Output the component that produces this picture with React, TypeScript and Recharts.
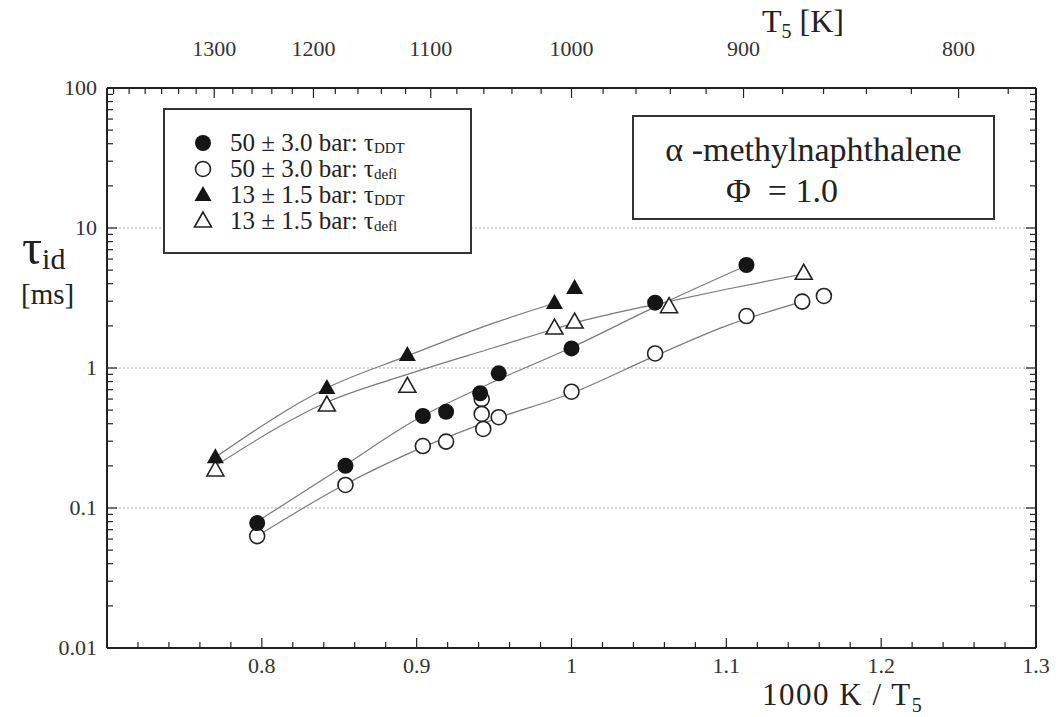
import React from 'react'
import {
  ComposedChart,
  Legend,
  Line,
  ReferenceLine,
  Scatter,
  XAxis,
  YAxis,
} from 'recharts'

// 1000 K / T5 and ignition delay [ms]
const ddt50X = [0.797, 0.854, 0.904, 0.919, 0.941, 0.953, 1.0, 1.054, 1.113]
const ddt50Y = [0.078, 0.2, 0.454, 0.487, 0.66, 0.916, 1.38, 2.93, 5.44]

const defl50X = [0.797, 0.854, 0.904, 0.919, 0.942, 0.942, 0.943, 0.953, 1.0, 1.054, 1.113, 1.149, 1.163]
const defl50Y = [0.063, 0.146, 0.277, 0.298, 0.6, 0.47, 0.367, 0.445, 0.677, 1.27, 2.35, 2.98, 3.27]

const ddt13X = [0.77, 0.842, 0.894, 0.989, 1.002]
const ddt13Y = [0.23, 0.72, 1.24, 2.91, 3.73]

const defl13X = [0.77, 0.842, 0.894, 0.989, 1.002, 1.063, 1.15]
const defl13Y = [0.187, 0.544, 0.74, 1.93, 2.13, 2.74, 4.75]

// fitted curves
const fitDdt50X = [0.797, 0.85, 0.9, 0.95, 1.0, 1.05, 1.113]
const fitDdt50Y = [0.08, 0.19, 0.43, 0.8, 1.4, 2.6, 5.4]
const fitDefl50X = [0.797, 0.85, 0.9, 0.95, 1.0, 1.054, 1.1, 1.149]
const fitDefl50Y = [0.063, 0.14, 0.26, 0.43, 0.66, 1.22, 2.0, 2.98]
const fitDdt13X = [0.77, 0.842, 0.894, 0.95, 0.989]
const fitDdt13Y = [0.23, 0.72, 1.22, 2.1, 2.9]
const fitDefl13X = [0.77, 0.842, 0.894, 0.95, 0.989, 1.002, 1.054, 1.1, 1.15]
const fitDefl13Y = [0.2, 0.57, 0.9, 1.4, 1.9, 2.1, 2.85, 3.65, 4.7]

const xMajor = [0.8, 0.9, 1.0, 1.1, 1.2, 1.3]
const xLabels = ['0.8', '0.9', '1', '1.1', '1.2', '1.3']
const tMajor = [1300, 1200, 1100, 1000, 900, 800]
const yMajor = [0.01, 0.1, 1, 10, 100]
const yLabels = ['0.01', '0.1', '1', '10', '100']
const gridY = [10, 1, 0.1]

const legendRows = [
  { text: '50 ± 3.0 bar: τ', sub: 'DDT', marker: 'filledCircle' },
  { text: '50 ± 3.0 bar: τ', sub: 'defl', marker: 'openCircle' },
  { text: '13 ± 1.5 bar: τ', sub: 'DDT', marker: 'filledTriangle' },
  { text: '13 ± 1.5 bar: τ', sub: 'defl', marker: 'openTriangle' },
]

const pts = (xs: number[], ys: number[]) => xs.map((x, i) => ({ x, y: ys[i] }))

// minor ticks
const xTicks: number[] = []
for (let i = 0; i <= 30; i++) xTicks.push(Math.round((0.7 + i * 0.02) * 1000) / 1000)
const tTicks: number[] = []
for (let t = 1420; t >= 780; t -= 20) tTicks.push(1000 / t)
const yTicks: number[] = []
for (const d of [0.01, 0.1, 1, 10]) for (let m = 1; m <= 9; m++) yTicks.push(Math.round(d * m * 1000) / 1000)
yTicks.push(100)

const FONT = '"Times New Roman", "Liberation Serif", Tinos, "DejaVu Serif", "Noto Serif", Times, serif'
const LINE = '#7a7a7a'

const isIn = (v: number, list: number[]) => list.findIndex((m) => Math.abs(m - v) < 1e-6)

const BottomTick = ({ x, y, payload }: any) => {
  const i = isIn(payload.value, xMajor)
  return (
    <g>
      <line x1={x} x2={x} y1={y} y2={y - (i >= 0 ? 10 : 6)} stroke="#222" strokeWidth={1.2} />
      {i >= 0 && (
        <text x={x} y={y + 25} textAnchor="middle" fontSize={22} style={{ fontFamily: FONT }} fill="#333">
          {xLabels[i]}
        </text>
      )}
    </g>
  )
}

const TopTick = ({ x, y, payload }: any) => {
  const T = Math.round(1000 / payload.value)
  const major = tMajor.includes(T)
  return (
    <g>
      <line x1={x} x2={x} y1={y} y2={y + (major ? 10 : 6)} stroke="#222" strokeWidth={1.2} />
      {major && (
        <text x={x} y={y - 32} textAnchor="middle" fontSize={22} style={{ fontFamily: FONT }} fill="#333">
          {T}
        </text>
      )}
    </g>
  )
}

const LeftTick = ({ x, y, payload }: any) => {
  const i = isIn(payload.value, yMajor)
  return (
    <g>
      <line x1={x} x2={x + (i >= 0 ? 10 : 6)} y1={y} y2={y} stroke="#222" strokeWidth={1.2} />
      {i >= 0 && (
        <text x={x - 10} y={y + 7} textAnchor="end" fontSize={22} style={{ fontFamily: FONT }} fill="#333">
          {yLabels[i]}
        </text>
      )}
    </g>
  )
}

const RightTick = ({ x, y, payload }: any) => {
  const i = isIn(payload.value, yMajor)
  return <line x1={x} x2={x - (i >= 0 ? 10 : 6)} y1={y} y2={y} stroke="#222" strokeWidth={1.2} />
}

const FilledCircle = ({ cx, cy }: any) => <circle cx={cx} cy={cy} r={8} fill="#151515" />
const OpenCircle = ({ cx, cy }: any) => (
  <circle cx={cx} cy={cy} r={7.5} fill="#fff" stroke="#222" strokeWidth={1.6} />
)
const triPts = (cx: number, cy: number) =>
  `${cx},${cy - 9} ${cx - 8.5},${cy + 6} ${cx + 8.5},${cy + 6}`
const FilledTriangle = ({ cx, cy }: any) => <polygon points={triPts(cx, cy)} fill="#151515" />
const OpenTriangle = ({ cx, cy }: any) => (
  <polygon points={triPts(cx, cy)} fill="#fff" stroke="#222" strokeWidth={1.6} />
)

const markerFor: Record<string, any> = {
  filledCircle: FilledCircle,
  openCircle: OpenCircle,
  filledTriangle: FilledTriangle,
  openTriangle: OpenTriangle,
}

const LegendBox = () => (
  <div
    style={{
      width: 305,
      height: 142,
      border: '2px solid #333',
      background: '#fff',
      fontFamily: FONT,
      color: '#222',
    }}
  >
    {legendRows.map((r, i) => {
      const M = markerFor[r.marker]
      return (
        <div
          key={i}
          style={{
            position: 'absolute',
            left: 30,
            top: 21 + i * 26,
            height: 26,
            display: 'flex',
            alignItems: 'center',
            lineHeight: 1,
          }}
        >
          <svg width={20} height={20} style={{ marginRight: 17 }}>
            <M cx={10} cy={11} />
          </svg>
          <span style={{ fontSize: 25, whiteSpace: 'nowrap', lineHeight: 1 }}>
            {r.text}
            <span style={{ fontSize: 15, position: 'relative', top: 2, lineHeight: 1 }}>{r.sub}</span>
          </span>
        </div>
      )
    })}
  </div>
)

export default function App() {
  return (
    <div
      style={{
        position: 'absolute',
        left: 0,
        top: 0,
        width: 1058,
        height: 717,
        background: '#fff',
        fontFamily: FONT,
      }}
    >
      <ComposedChart width={1058} height={717} margin={{ top: 0, right: 0, bottom: 0, left: 0 }}>
        <XAxis
          xAxisId="b"
          dataKey="x"
          type="number"
          domain={[0.7, 1.3]}
          allowDataOverflow
          ticks={xTicks}
          interval={0}
          tickSize={0}
          tickMargin={0}
          height={69}
          tickLine={false}
          axisLine={{ stroke: '#222', strokeWidth: 2 }}
          tick={(p: any) => <BottomTick {...p} />}
        />
        <XAxis
          xAxisId="t"
          orientation="top"
          dataKey="x"
          type="number"
          domain={[0.7, 1.3]}
          allowDataOverflow
          ticks={tTicks}
          interval={0}
          tickSize={0}
          tickMargin={0}
          height={88}
          tickLine={false}
          axisLine={{ stroke: '#222', strokeWidth: 2 }}
          tick={(p: any) => <TopTick {...p} />}
        />
        <YAxis
          yAxisId="l"
          dataKey="y"
          type="number"
          scale="log"
          domain={[0.01, 100]}
          allowDataOverflow
          ticks={yTicks}
          interval={0}
          tickSize={0}
          tickMargin={0}
          width={107}
          tickLine={false}
          axisLine={{ stroke: '#222', strokeWidth: 2 }}
          tick={(p: any) => <LeftTick {...p} />}
        />
        <YAxis
          yAxisId="r"
          orientation="right"
          dataKey="y"
          type="number"
          scale="log"
          domain={[0.01, 100]}
          allowDataOverflow
          ticks={yTicks}
          interval={0}
          tickSize={0}
          tickMargin={0}
          width={22}
          tickLine={false}
          axisLine={{ stroke: '#222', strokeWidth: 2 }}
          tick={(p: any) => <RightTick {...p} />}
        />
        {gridY.map((v) => (
          <ReferenceLine
            key={v}
            xAxisId="b"
            yAxisId="l"
            y={v}
            stroke="#aaa"
            strokeDasharray="2 2"
            strokeWidth={1}
          />
        ))}
        <Line xAxisId="b" yAxisId="l" data={pts(fitDdt50X, fitDdt50Y)} dataKey="y" type="monotone" stroke={LINE} strokeWidth={1.2} dot={false} isAnimationActive={false} />
        <Line xAxisId="b" yAxisId="l" data={pts(fitDefl50X, fitDefl50Y)} dataKey="y" type="monotone" stroke={LINE} strokeWidth={1.2} dot={false} isAnimationActive={false} />
        <Line xAxisId="b" yAxisId="l" data={pts(fitDdt13X, fitDdt13Y)} dataKey="y" type="monotone" stroke={LINE} strokeWidth={1.2} dot={false} isAnimationActive={false} />
        <Line xAxisId="b" yAxisId="l" data={pts(fitDefl13X, fitDefl13Y)} dataKey="y" type="monotone" stroke={LINE} strokeWidth={1.2} dot={false} isAnimationActive={false} />
        <Scatter xAxisId="b" yAxisId="l" data={pts(defl50X, defl50Y)} shape={(p: any) => <OpenCircle {...p} />} isAnimationActive={false} />
        <Scatter xAxisId="b" yAxisId="l" data={pts(defl13X, defl13Y)} shape={(p: any) => <OpenTriangle {...p} />} isAnimationActive={false} />
        <Scatter xAxisId="b" yAxisId="l" data={pts(ddt50X, ddt50Y)} shape={(p: any) => <FilledCircle {...p} />} isAnimationActive={false} />
        <Scatter xAxisId="b" yAxisId="l" data={pts(ddt13X, ddt13Y)} shape={(p: any) => <FilledTriangle {...p} />} isAnimationActive={false} />
        <Legend
          layout="vertical"
          align="center"
          verticalAlign="middle"
          content={() => <LegendBox />}
          wrapperStyle={{ left: 163, top: 108, width: 309, height: 146 }}
        />
      </ComposedChart>

      {/* title box */}
      <div
        style={{
          position: 'absolute',
          left: 632,
          top: 115,
          width: 359,
          height: 101,
          border: '2px solid #333',
          background: '#fff',
          color: '#222',
        }}
      >
        <div style={{ position: 'absolute', left: 0, right: 0, top: 14, textAlign: 'center', fontSize: 34, whiteSpace: 'nowrap', lineHeight: 1.1 }}>
          α -methylnaphthalene
        </div>
        <div style={{ position: 'absolute', left: 92, top: 55, fontSize: 34, whiteSpace: 'nowrap', lineHeight: 1.1 }}>
          Φ&nbsp; = 1.0
        </div>
      </div>

      {/* axis titles */}
      <div style={{ position: 'absolute', left: 762, top: 5, fontSize: 32, color: '#222', whiteSpace: 'nowrap', lineHeight: 1 }}>
        T<span style={{ fontSize: 20, position: 'relative', top: 6 }}>5</span> [K]
      </div>
      <div
        style={{
          position: 'absolute',
          left: 762,
          top: 679,
          fontSize: 31,
          letterSpacing: 1.5,
          color: '#222',
          whiteSpace: 'nowrap',
          lineHeight: 1,
        }}
      >
        1000 K / T<span style={{ fontSize: 20, position: 'relative', top: 7 }}>5</span>
      </div>
      <div style={{ position: 'absolute', left: 22, top: 222, fontSize: 50, color: '#222', whiteSpace: 'nowrap', lineHeight: 1 }}>
        τ<span style={{ fontSize: 30, position: 'relative', top: 5, lineHeight: 1 }}>id</span>
      </div>
      <div style={{ position: 'absolute', left: 21, top: 280, fontSize: 29, color: '#222', whiteSpace: 'nowrap', lineHeight: 1 }}>
        [ms]
      </div>
    </div>
  )
}
